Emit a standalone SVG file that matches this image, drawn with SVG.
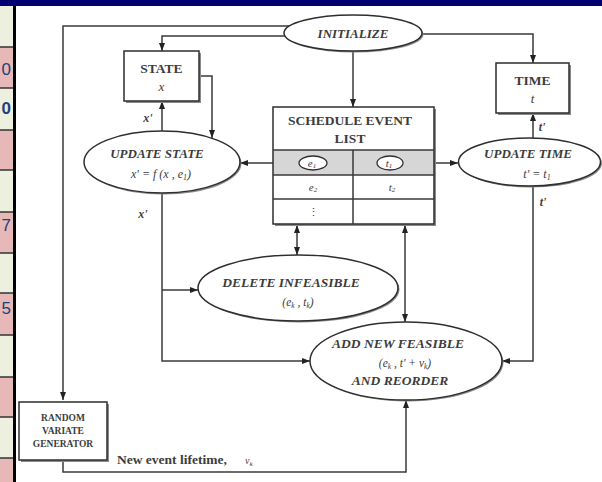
<svg xmlns="http://www.w3.org/2000/svg" width="602" height="482" viewBox="0 0 602 482">
<style>
.ln{fill:none;stroke:#3a3a3a;stroke-width:1.5}
.nd{fill:#fff;stroke:#2e2e2e;stroke-width:1.5}
.sh{fill:#8a8a8a;stroke:none}
.t{font-family:"Liberation Serif",serif;fill:#3c3c3c;text-anchor:middle}
.b{font-weight:bold}
.i{font-style:italic}
.dg{font-family:"Liberation Sans",sans-serif;font-size:17px;fill:#22407a}
</style>
<defs>
<marker id="ar" viewBox="0 0 8 6" refX="8" refY="3" markerWidth="8" markerHeight="6" markerUnits="userSpaceOnUse" orient="auto-start-reverse">
<path d="M0,0 L8,3 L0,6 Z" fill="#222"/>
</marker>
</defs>
<rect width="602" height="482" fill="#fff"/>
<!-- top band and left strip -->
<rect x="0" y="0" width="602" height="6" fill="#000072"/>
<g id="strip">
<rect x="0" y="6" width="14" height="41" fill="#edefdf"/>
<rect x="0" y="47" width="14" height="41" fill="#e6b9b8"/>
<rect x="0" y="88" width="14" height="42" fill="#edefdf"/>
<rect x="0" y="130" width="14" height="40" fill="#e6b9b8"/>
<rect x="0" y="170" width="14" height="42" fill="#edefdf"/>
<rect x="0" y="212" width="14" height="41" fill="#e6b9b8"/>
<rect x="0" y="253" width="14" height="40" fill="#edefdf"/>
<rect x="0" y="293" width="14" height="42" fill="#e6b9b8"/>
<rect x="0" y="335" width="14" height="42" fill="#edefdf"/>
<rect x="0" y="377" width="14" height="40" fill="#e6b9b8"/>
<rect x="0" y="417" width="14" height="41" fill="#edefdf"/>
<rect x="0" y="458" width="14" height="24" fill="#e6b9b8"/>
<path d="M0,47H14M0,88H14M0,130H14M0,170H14M0,212H14M0,253H14M0,293H14M0,335H14M0,377H14M0,417H14M0,458H14" stroke="#333" stroke-width="1.5"/>
<text class="dg" x="1.5" y="75">0</text>
<text class="dg" x="1.5" y="114" font-weight="bold" fill="#1a2f8a">0</text>
<text class="dg" x="1.5" y="231">7</text>
<text class="dg" x="1.5" y="314">5</text>
<rect x="13" y="6" width="3" height="476" fill="#000"/>
</g>
<!-- connectors -->
<g id="connectors">
<path class="ln" d="M300,26 H63 V400" marker-end="url(#ar)"/>
<path class="ln" d="M300,36 H162 V51" marker-end="url(#ar)"/>
<path class="ln" d="M353,45 V107" marker-end="url(#ar)"/>
<path class="ln" d="M410,34 H533 V63" marker-end="url(#ar)"/>
<path class="ln" d="M199,76 H212 V138" marker-end="url(#ar)"/>
<path class="ln" d="M162,140 V101" marker-end="url(#ar)"/>
<path class="ln" d="M533,145 V113" marker-end="url(#ar)"/>
<path class="ln" d="M299,163 H240" marker-end="url(#ar)"/>
<path class="ln" d="M403,163 H458" marker-end="url(#ar)"/>
<path class="ln" d="M162,185 V361 H310" marker-end="url(#ar)"/>
<path class="ln" d="M162,290 H198" marker-end="url(#ar)"/>
<path class="ln" d="M297,225 V255" marker-start="url(#ar)" marker-end="url(#ar)"/>
<path class="ln" d="M405,225 V322" marker-start="url(#ar)" marker-end="url(#ar)"/>
<path class="ln" d="M533,180 V361 H502" marker-end="url(#ar)"/>
<path class="ln" d="M63,458 V472 H406 V400" marker-end="url(#ar)"/>
<text class="t i b" x="148" y="122" font-size="12">x'</text>
<text class="t i b" x="143" y="218" font-size="12">x'</text>
<text class="t i b" x="542" y="131" font-size="12">t'</text>
<text class="t i b" x="543" y="206" font-size="12">t'</text>
<text class="t b" x="117" y="464" font-size="13.5" style="text-anchor:start">New event lifetime,</text>
<text class="t i" x="245" y="464" font-size="10" style="text-anchor:start">v<tspan font-size="7" dy="2">k</tspan></text>
</g>
<!-- nodes -->
<g id="initialize">
<ellipse class="sh" cx="354.5" cy="34.5" rx="69" ry="18"/>
<ellipse class="nd" cx="353" cy="33" rx="69" ry="18"/>
<text class="t b i" x="353" y="38" font-size="13">INITIALIZE</text>
</g>
<g id="state">
<rect class="sh" x="126" y="53" width="75" height="50"/>
<rect class="nd" x="124" y="51" width="75" height="50"/>
<text class="t b" x="161.5" y="73" font-size="13.5">STATE</text>
<text class="t i" x="161.5" y="91" font-size="13">x</text>
</g>
<g id="time">
<rect class="sh" x="498" y="65" width="73" height="50"/>
<rect class="nd" x="496" y="63" width="73" height="50"/>
<text class="t b" x="532.5" y="85" font-size="13.5">TIME</text>
<text class="t i" x="532.5" y="103" font-size="13">t</text>
</g>
<g id="schedule">
<rect class="sh" x="275" y="109" width="161" height="117"/>
<rect x="273" y="107" width="161" height="117" fill="#fff"/>
<rect x="273" y="150" width="161" height="25" fill="#d6d6d6"/>
<rect x="273" y="107" width="161" height="117" fill="none" stroke="#2e2e2e" stroke-width="1.5"/>
<path class="ln" d="M273,150H434M273,175H434M273,199H434M353,150V224"/>
<text class="t b" x="350" y="125" font-size="13.5">SCHEDULE EVENT</text>
<text class="t b" x="350" y="143" font-size="13.5">LIST</text>
<ellipse cx="313" cy="163" rx="14" ry="7" fill="#fff" stroke="#2e2e2e" stroke-width="1.3"/>
<ellipse cx="390" cy="163" rx="13" ry="7" fill="#fff" stroke="#2e2e2e" stroke-width="1.3"/>
<text class="t i" x="312" y="167" font-size="11">e<tspan font-size="7" dy="1">1</tspan></text>
<text class="t i" x="389" y="167" font-size="11">t<tspan font-size="7" dy="1">1</tspan></text>
<text class="t i" x="313" y="191" font-size="11">e<tspan font-size="7" dy="1">2</tspan></text>
<text class="t i" x="392" y="191" font-size="11">t<tspan font-size="7" dy="1">2</tspan></text>
<text class="t" x="313" y="216" font-size="11">⋮</text>
</g>
<g id="update-state">
<ellipse class="sh" cx="163.5" cy="163.5" rx="78" ry="31"/>
<ellipse class="nd" cx="162" cy="162" rx="78" ry="31"/>
<text class="t b i" x="157" y="158" font-size="13">UPDATE STATE</text>
<text class="t i" x="161" y="178" font-size="12">x' = f (x , e<tspan font-size="8" dy="2">1</tspan><tspan dy="-2">)</tspan></text>
</g>
<g id="update-time">
<ellipse class="sh" cx="531" cy="163.5" rx="71" ry="24"/>
<ellipse class="nd" cx="529.5" cy="162" rx="71" ry="24"/>
<text class="t b i" x="528" y="158" font-size="13">UPDATE TIME</text>
<text class="t i" x="537" y="178" font-size="12">t' = t<tspan font-size="8" dy="2">1</tspan></text>
</g>
<g id="delete-infeasible">
<ellipse class="sh" cx="299.5" cy="289.5" rx="100" ry="33"/>
<ellipse class="nd" cx="298" cy="288" rx="100" ry="33"/>
<text class="t b i" x="291" y="287" font-size="13.5">DELETE INFEASIBLE</text>
<text class="t i" x="298" y="306" font-size="11.5">(e<tspan font-size="7.5" dy="2">k</tspan><tspan dy="-2"> , t</tspan><tspan font-size="7.5" dy="2">k</tspan><tspan dy="-2">)</tspan></text>
</g>
<g id="add-new-feasible">
<ellipse class="sh" cx="407.5" cy="362.5" rx="96" ry="39"/>
<ellipse class="nd" cx="406" cy="361" rx="96" ry="39"/>
<text class="t b i" x="398" y="348" font-size="13.5">ADD NEW FEASIBLE</text>
<text class="t i" x="405" y="367" font-size="11.5">(e<tspan font-size="7.5" dy="2">k</tspan><tspan dy="-2"> , t' + v</tspan><tspan font-size="7.5" dy="2">k</tspan><tspan dy="-2">)</tspan></text>
<text class="t b i" x="400" y="385" font-size="13.5">AND REORDER</text>
</g>
<g id="random-variate-generator">
<rect class="sh" x="21" y="404" width="88" height="58"/>
<rect class="nd" x="19" y="402" width="88" height="58"/>
<text class="t b" x="63" y="421" font-size="9.5">RANDOM</text>
<text class="t b" x="63" y="434" font-size="9.5">VARIATE</text>
<text class="t b" x="63" y="447" font-size="9.5">GENERATOR</text>
</g>
</svg>
